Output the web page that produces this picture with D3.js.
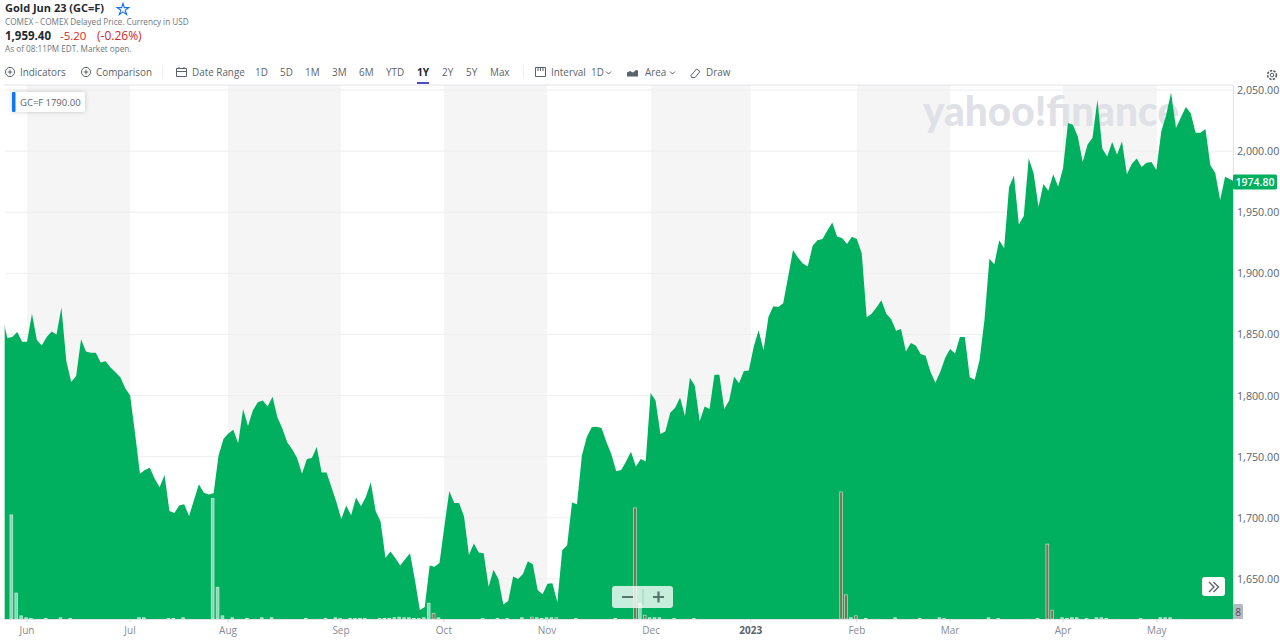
<!DOCTYPE html>
<html>
<head>
<meta charset="utf-8">
<script src="https://cdn.jsdelivr.net/npm/d3@7"></script>
<style>
html,body{margin:0;padding:0;background:#fff;overflow:hidden}
svg{display:block}
text{font-family:"Open Sans","Noto Sans",sans-serif}
</style>
</head>
<body>
<svg id="c" width="1280" height="642"></svg>
<script>
const prices = [
1864,1847,1848,1852,1844,1844,1867,1845.5,1841,1848,
1852.5,1850,1872,1828,1811,1816,1846,1836,1835,1835,
1827,1828,1823,1819,1815,1806,1800,1769,1736,1739,
1741,1732,1725,1735,1705.5,1704,1710,1711,1701.5,1714.5,
1727.5,1720.5,1719,1720,1751,1764.5,1769,1772,1761,1789,
1775,1788,1794.5,1796,1791,1799,1782,1773,1761.5,1756,
1749,1736,1748,1749,1758,
1737,1737,1725,1713,1699,1710,1702,1716.5,1709.5,1717,
1729,1705.5,1697,1667,1672.5,1667,1661,1666,1671,1649,
1624.5,1627,1661,1660,1663,1693,1722,1712,1712,1701,
1669.5,1679,1671.5,1671,1643.5,1657.5,1650,1629,1632,1652,
1650,1654,1664.5,1662,1641,1637.5,1646,1646.5,1631,1673.5,
1677.5,1712.5,1711,1751,1766,1774,1774.5,1773.5,1762,1752,
1738,1739,1746,1754,1742,1748,
1746,1802,1796,1768.5,1770.5,1786,1790,1798.5,1783,1814.5,
1808,1779,1791,1789,1817,1817,1789,1796,1815.5,1810,
1820,1820.5,1840,1853.5,1837,1864.5,1873,1872.5,1875.5,1897,
1919,1913,1908,1905.5,1922.5,1927,1928,1935,1941.5,1930,
1929,1924,1930,1928,1916.5,1864,1867,1872,1878,1867,
1862.5,1853,1854.5,1836,1843,1841,1834,1832.5,1819.5,1810.5,
1819.5,1831,1838,1834.5,1848,
1848,1815,1813,1829,1862,
1912,1907.5,1927,1920.5,1970.5,1980,1940,1947,1994,1982,
1954.5,1973,1967.5,1981,1971,1986,2023,2021.5,2012,1991,
2005.5,2011,2042,2002,1995.5,2007.5,1997,2008,1981,1989.5,
1994,1987,1990.5,1991,1984.5,2016,2029.5,2048,2019,2027.5,
2036,2031,2015,2015,2018,1988.5,1982,1960,1979,1977,1974.8
];
const priceTicks = [1650,1700,1750,1800,1850,1900,1950,2000,2050];
const monthLabels = ["Jun","Jul","Aug","Sep","Oct","Nov","Dec","2023","Feb","Mar","Apr","May"];
const monthIndex = [4.99,25.97,45.93,68.94,89.9,110.9,132.1,152.4,174,193,216,235.1];
const volumeIndex = [1,2,3,42,43,44,86,87,128,129,130,170,171,173,212,213,
 4,5,8,11,13,27,28,33,34,36,46,49,52,54,61,65,67,68,70,71,72,73,76,77,78,79,80,81,82,83,84,85,88,
 97,100,102,105,107,108,109,110,111,112,116,124,131,132,133,136,140,172,175,181,186,190,191,200,202,210,215,216,217,218,220,222,223,224,231,235,236,237];
const volumeValue = [164,41,5,190,50,5,25,9,175,25,6,200,38,5,118,14,
 2,1,1,2,1,2,2,1,1,2,2,1,2,2,1,1,2,1,1,1,1,1,1,1,1,2,3,2,2,1,1,2,2,
 1,1,1,2,3,2,1,2,2,2,1,1,2,2,2,1,1,2,1,2,1,2,1,2,1,1,2,1,2,2,1,2,2,1,1,2,2,2];
const volumeDown = [128,170,171,173,212,87,130,107,112,213];

const svg = d3.select("#c");
const left = 4.67, right = 1233, top_ = 85, bottom = 619;
const x = d3.scaleLinear().domain([0, prices.length - 1]).range([2.5, 1234.9]);
const y = d3.scaleLinear().domain([1650, 2050]).range([578.9, 90]);
const v = d3.scaleLinear().domain([0, 200]).range([619, 492]);

svg.append("defs").append("clipPath").attr("id", "plot").append("rect")
  .attr("x", left).attr("y", top_).attr("width", right - left).attr("height", bottom - top_);

// alternating month shading
const bandPairs = [[0,1],[2,3],[4,5],[6,7],[8,9],[10,11]];
svg.append("g").selectAll("rect").data(bandPairs).join("rect")
  .attr("x", d => x(monthIndex[d[0]]))
  .attr("width", d => x(monthIndex[d[1]]) - x(monthIndex[d[0]]))
  .attr("y", top_).attr("height", bottom - top_).attr("fill", "#f5f5f5");

// grid
svg.append("g").selectAll("line").data(priceTicks).join("line")
  .attr("x1", left).attr("x2", right).attr("y1", d => y(d)).attr("y2", d => y(d))
  .attr("stroke", "#eceef0").attr("stroke-width", 1);

// watermark
svg.append("text").text("yahoo!finance").attr("x", 923).attr("y", 126)
  .attr("font-size", 41).attr("font-weight", 900).attr("fill", "#dfe1e7")
  .attr("textLength", 256).attr("lengthAdjust", "spacingAndGlyphs")
  .style("font-family", "Lato, 'Open Sans', sans-serif");

// area
const area = d3.area().x((d, i) => x(i)).y0(bottom).y1(d => y(d));
svg.append("path").datum(prices).attr("d", area).attr("fill", "#01B05F").attr("clip-path", "url(#plot)");

// volume bars
svg.append("g").selectAll("rect").data(volumeIndex).join("rect")
  .attr("x", d => x(d + 0.8) - 1.4).attr("width", 2.8)
  .attr("y", (d, i) => v(volumeValue[i]))
  .attr("height", (d, i) => bottom - v(volumeValue[i]))
  .attr("fill", d => volumeDown.includes(d) ? "rgba(214,70,70,.55)" : "rgba(255,255,255,.5)")
  .attr("stroke", "rgba(255,255,255,.7)").attr("stroke-width", 0.7);

// frame lines
const lineColor = "#e0e4e9";
svg.append("line").attr("x1", 4).attr("x2", right).attr("y1", top_).attr("y2", top_).attr("stroke", lineColor);
svg.append("line").attr("x1", 4).attr("x2", right).attr("y1", bottom + .5).attr("y2", bottom + .5).attr("stroke", lineColor);

// y axis
const yAxis = d3.axisRight(y).tickValues(priceTicks).tickFormat(d3.format(",.2f")).tickSize(0).tickPadding(4);
const ga = svg.append("g").attr("transform", `translate(${right},0)`).call(yAxis);
ga.select(".domain").attr("d", `M0.5,${top_}V${bottom}`).attr("stroke", lineColor);
ga.selectAll("text").attr("font-size", 10.7).attr("fill", "#5b636a").style("font-family", "'Open Sans',sans-serif");

// x axis
const xg = svg.append("g").selectAll("g").data(monthLabels).join("g")
  .attr("transform", (d, i) => `translate(${x(monthIndex[i])},${bottom})`);
xg.append("line").attr("y1", 0).attr("y2", 3).attr("stroke", "#d5d8dc");
xg.append("text").text(d => d).attr("y", 15).attr("text-anchor", "middle").attr("font-size", 10)
  .attr("font-weight", d => d === "2023" ? 700 : 400).attr("fill", d => d === "2023" ? "#5b636a" : "#868c95");

// last price label
svg.append("rect").attr("x", 1233).attr("y", y(1974.8) - 7.5).attr("width", 44).attr("height", 15).attr("rx", 1.5).attr("fill", "#01B05F");
svg.append("text").text("1974.80").attr("x", 1255).attr("y", y(1974.8) + 3.8).attr("text-anchor", "middle")
  .attr("font-size", 10.5).attr("font-weight", 600).attr("fill", "#fff");

// volume badge
svg.append("rect").attr("x", 1233).attr("y", 604).attr("width", 10).attr("height", 15).attr("rx", 1.5).attr("fill", "#b5b9c4");
svg.append("text").text("8").attr("x", 1238).attr("y", 615.5).attr("text-anchor", "middle").attr("font-size", 10).attr("fill", "#464e56");

// zoom control
svg.append("rect").attr("x", 612).attr("y", 586).attr("width", 61).attr("height", 22).attr("rx", 3).attr("fill", "rgba(255,255,255,.78)");
svg.append("line").attr("x1", 643).attr("x2", 643).attr("y1", 589).attr("y2", 605).attr("stroke", "rgba(70,110,90,.25)");
svg.append("path").attr("d", "M622,597H633M653,597H664M658.5,591.5V602.5").attr("stroke", "#55766a").attr("stroke-width", 2.2).attr("fill", "none");

// scroll button
svg.append("rect").attr("x", 1202).attr("y", 577).attr("width", 23).attr("height", 19).attr("rx", 3).attr("fill", "#fff");
svg.append("path").attr("d", "M1209,582L1214,587L1209,592M1213.5,582L1218.5,587L1213.5,592").attr("stroke", "#5b636a").attr("stroke-width", 1.4).attr("fill", "none");

// GC=F badge
svg.append("rect").attr("x", 12).attr("y", 92).attr("width", 73).attr("height", 20).attr("rx", 2).attr("fill", "#fff").style("filter", "drop-shadow(0 0 2px rgba(0,0,0,.2))");
svg.append("rect").attr("x", 12).attr("y", 92).attr("width", 3.5).attr("height", 20).attr("rx", 1).attr("fill", "#1377f0");
svg.append("text").text("GC=F").attr("x", 20).attr("y", 105.5).attr("font-size", 9.5).attr("fill", "#5b636a");
svg.append("text").text("1790.00").attr("x", 45.5).attr("y", 105.5).attr("font-size", 9.5).attr("fill", "#5b636a");

// header
function t(s, xp, yp, size, color, weight) {
  return svg.append("text").text(s).attr("x", xp).attr("y", yp).attr("font-size", size).attr("fill", color).attr("font-weight", weight || 400);
}
t("Gold Jun 23 (GC=F)", 5, 12, 11, "#232a31", 700);
t("COMEX - COMEX Delayed Price. Currency in USD", 5, 24.5, 8.2, "#6e7780");
t("1,959.40", 5, 39.5, 11.5, "#232a31", 700);
t("-5.20", 60, 39.5, 11.5, "#d0281f", 500);
t("(-0.26%)", 97, 39.5, 12, "#d0281f", 500);
t("As of 08:11PM EDT. Market open.", 5, 52, 8.2, "#6e7780");
svg.append("path").attr("d", d3.symbol(d3.symbolStar, 42)()).attr("transform", "translate(123,9.5)").attr("fill", "none").attr("stroke", "#1a6ff0").attr("stroke-width", 1.1);

// toolbar
const toolColor = "#5b636a";
const toolbar = [
 ["Indicators",20,75.5],["Comparison",96,75.5],["Date Range",192,75.5],["1D",255,75.5],["5D",280,75.5],["1M",305,75.5],["3M",332,75.5],["6M",359,75.5],["YTD",386,75.5],
 ["2Y",442,75.5],["5Y",466,75.5],["Max",490,75.5],["Interval",551,75.5],["1D",591,75.5],["Area",645,75.5],["Draw",706,75.5]
];
svg.append("g").selectAll("text").data(toolbar).join("text").text(d => d[0])
  .attr("x", d => d[1]).attr("y", d => d[2]).attr("font-size", 9.9).attr("font-weight", 500).attr("fill", toolColor);
t("1Y", 417, 75.5, 10.2, "#232a31", 700);
svg.append("rect").attr("x", 417).attr("y", 82).attr("width", 12).attr("height", 2).attr("fill", "#4a4fc4");
[[10,72],[86,72]].forEach(c => {
  svg.append("circle").attr("cx", c[0]).attr("cy", c[1]).attr("r", 4.6).attr("fill", "none").attr("stroke", toolColor).attr("stroke-width", 1);
  svg.append("path").attr("d", `M${c[0]-2.4},${c[1]}H${c[0]+2.4}M${c[0]},${c[1]-2.4}V${c[1]+2.4}`).attr("stroke", toolColor).attr("stroke-width", 1);
});
const icons = svg.append("g").attr("fill", "none").attr("stroke", toolColor).attr("stroke-width", 1);
icons.append("path").attr("d", "M176.5,68.5H186.5V76.5H176.5ZM176.5,71.5H186.5M179,67V69M184,67V69");
icons.append("path").attr("d", "M535.5,67.5H545.5V76.5H535.5ZM538,67.5V71M540.5,67.5V71M543,67.5V71");
icons.append("path").attr("d", "M606,71.5L608.5,74L611,71.5");
icons.append("path").attr("d", "M670,71.5L672.5,74L675,71.5");
svg.append("path").attr("d", "M627,76.5V72.5L630,71L633,72.5L636,70L638,70.5V76.5Z").attr("fill", toolColor);
icons.append("path").attr("d", "M691,75.5L696.5,69L700,71.5L695,77.5H691.5Z");
svg.append("line").attr("x1", 162.5).attr("x2", 162.5).attr("y1", 65).attr("y2", 78).attr("stroke", "#eceef0");
svg.append("line").attr("x1", 523.5).attr("x2", 523.5).attr("y1", 65).attr("y2", 78).attr("stroke", "#eceef0");
// gear
svg.append("circle").attr("cx", 1272).attr("cy", 75).attr("r", 1.8).attr("fill", "none").attr("stroke", toolColor);
svg.append("circle").attr("cx", 1272).attr("cy", 75).attr("r", 4.4).attr("fill", "none").attr("stroke", toolColor).attr("stroke-width", 1.6).attr("stroke-dasharray", "2.4 1.2");
</script>
</body>
</html>
